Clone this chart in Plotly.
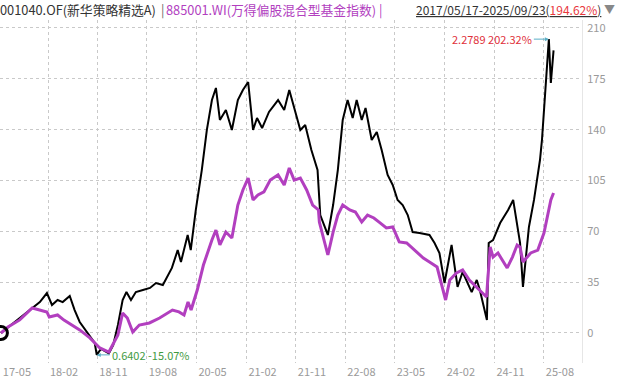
import plotly.graph_objects as go

# ---------------- data (cumulative return, %) ----------------
fund_dates = [
    "2017-05-17", "2017-07-05", "2017-08-29", "2017-10-24", "2017-12-18", "2018-01-26",
    "2018-02-23", "2018-03-26", "2018-04-23", "2018-06-01", "2018-06-28", "2018-07-26",
    "2018-09-09", "2018-10-17", "2018-10-28", "2018-11-20", "2018-12-10", "2019-01-03",
    "2019-01-27", "2019-02-22", "2019-03-20", "2019-04-10", "2019-05-05", "2019-06-01",
    "2019-07-10", "2019-08-18", "2019-09-20", "2019-10-28", "2019-12-17", "2020-01-18",
    "2020-02-05", "2020-03-13", "2020-03-30", "2020-04-27", "2020-05-30", "2020-06-27",
    "2020-07-25", "2020-08-16", "2020-09-07", "2020-10-10", "2020-11-12", "2020-12-15",
    "2021-01-12", "2021-02-10", "2021-03-09", "2021-03-31", "2021-04-28", "2021-06-05",
    "2021-07-25", "2021-08-28", "2021-09-25", "2021-10-22", "2021-11-25", "2021-12-22",
    "2022-01-25", "2022-02-28", "2022-03-15", "2022-04-26", "2022-05-25", "2022-06-20",
    "2022-07-17", "2022-08-13", "2022-09-10", "2022-10-02", "2022-10-30", "2022-11-20",
    "2022-12-24", "2023-01-21", "2023-02-17", "2023-03-22", "2023-04-19", "2023-05-16",
    "2023-06-13", "2023-07-11", "2023-08-07", "2023-09-14", "2023-11-08", "2023-12-06",
    "2024-01-02", "2024-01-30", "2024-03-09", "2024-04-11", "2024-05-09", "2024-06-28",
    "2024-07-26", "2024-08-12", "2024-09-20", "2024-09-30", "2024-10-24", "2024-12-02",
    "2025-01-15", "2025-02-12", "2025-03-06", "2025-03-22", "2025-04-07", "2025-04-23",
    "2025-05-10", "2025-06-07", "2025-06-23", "2025-07-10", "2025-07-21", "2025-08-01",
    "2025-08-12", "2025-08-22", "2025-08-28", "2025-09-08", "2025-09-18", "2025-09-23",
]
fund_pct = [
    0.0, 4.8, 10.3, 15.8, 21.3, 27.5,
    19.3, 22.7, 21.3, 25.5, 15.8, 7.6,
    0.0, -6.9, -15.07, -11.0, -12.4, -14.0,
    -8.3, 5.5, 22.7, 28.2, 22.7, 28.2,
    29.6, 31.0, 34.4, 33.0, 44.8, 57.1,
    48.9, 67.5, 57.1, 84.7, 112.2, 139.8,
    160.4, 168.7, 146.7, 153.5, 139.8, 160.4,
    167.3, 172.8, 139.8, 148.0, 141.1, 152.2,
    160.4, 153.5, 167.3, 154.9, 139.8, 143.2,
    126.0, 112.2, 81.2, 67.5, 88.1, 112.2,
    146.7, 160.4, 148.0, 160.4, 146.7, 154.9,
    132.9, 138.4, 126.0, 108.8, 101.9, 91.6,
    88.1, 81.2, 69.5, 68.8, 67.5, 62.0,
    55.1, 34.4, 60.6, 31.7, 42.0, 28.2,
    36.5, 29.6, 9.0, 62.0, 64.0, 75.7,
    84.7, 91.6, 75.7, 62.0, 31.7, 50.3,
    73.0, 91.6, 105.3, 119.1, 132.9, 153.5,
    174.2, 185.9, 202.32, 172.1, 188.0, 194.62,
]

index_dates = [
    "2017-05-17", "2017-06-25", "2017-08-29", "2017-11-06", "2018-01-26", "2018-02-08",
    "2018-03-26", "2018-04-30", "2018-07-26", "2018-09-20", "2018-11-14", "2019-01-03",
    "2019-02-22", "2019-03-20", "2019-04-15", "2019-05-15", "2019-06-20", "2019-08-15",
    "2019-10-10", "2019-12-20", "2020-01-25", "2020-02-22", "2020-03-15", "2020-04-01",
    "2020-05-05", "2020-06-08", "2020-07-25", "2020-08-16", "2020-09-07", "2020-10-10",
    "2020-11-12", "2020-12-15", "2021-01-12", "2021-02-10", "2021-03-09", "2021-04-05",
    "2021-05-08", "2021-06-12", "2021-07-25", "2021-08-28", "2021-09-25", "2021-10-22",
    "2021-11-25", "2021-12-30", "2022-02-01", "2022-03-05", "2022-03-10", "2022-04-26",
    "2022-05-25", "2022-06-20", "2022-07-17", "2022-08-25", "2022-09-25", "2022-10-30",
    "2022-12-01", "2023-01-05", "2023-02-10", "2023-03-15", "2023-04-19", "2023-05-25",
    "2023-07-05", "2023-08-07", "2023-10-05", "2023-11-08", "2023-12-20", "2024-02-05",
    "2024-02-28", "2024-04-05", "2024-05-09", "2024-06-15", "2024-07-26", "2024-09-18",
    "2024-10-08", "2024-10-24", "2024-11-20", "2025-01-10", "2025-02-08", "2025-03-06",
    "2025-03-22", "2025-04-07", "2025-05-20", "2025-06-28", "2025-08-01", "2025-08-28",
    "2025-09-08", "2025-09-23",
]
index_pct = [
    0.0, 4.1, 9.0, 17.2, 14.5, 11.0,
    12.4, 8.9, 2.1, -3.4, -10.3, -13.1,
    -1.4, 13.8, 10.3, 0.7, 5.5, 6.9,
    10.3, 15.8, 14.5, 12.4, 21.3, 15.8,
    29.6, 46.8, 64.0, 70.9, 60.6, 69.5,
    65.4, 88.1, 98.5, 106.7, 91.6, 95.0,
    97.1, 105.3, 108.8, 101.9, 113.6, 105.3,
    106.7, 98.5, 88.1, 84.7, 76.4, 53.7,
    69.5, 81.2, 88.1, 84.7, 83.3, 76.4,
    81.2, 79.2, 75.7, 72.3, 73.0, 62.7,
    62.0, 58.5, 51.6, 48.9, 45.4, 22.7,
    36.5, 41.3, 43.4, 36.5, 31.7, 24.8,
    59.2, 52.3, 55.1, 44.8, 52.3, 60.6,
    59.2, 48.9, 55.1, 57.1, 68.8, 84.7,
    91.6, 96.4,
]

x_tick_dates = ["2017-05-17", "2018-02-01", "2018-11-01", "2019-08-01", "2020-05-01",
                "2021-02-01", "2021-11-01", "2022-08-01", "2023-05-01", "2024-02-01",
                "2024-11-01", "2025-08-01"]
x_tick_labels = ["17-05", "18-02", "18-11", "19-08", "20-05", "21-02", "21-11",
                 "22-08", "23-05", "24-02", "24-11", "25-08"]
y_tick_vals = [0, 35, 70, 105, 140, 175, 210]

fund_name = "001040.OF(新华策略精选A)"
index_name = "885001.WI(万得偏股混合型基金指数)"
period_text = "2017/05/17-2025/09/23"
period_ret = "194.62%"
max_label = "2.2789 202.32%"
min_label = "0.6402 -15.07%"
max_date, max_val = "2025-08-28", 202.32
min_date, min_val = "2018-10-28", -15.07

# ---------------- styles ----------------
BLACK = "#000000"
PURPLE = "#b23fbf"
GRID = "#c9c9c9"
TICK = "#9a9a9a"
CJK = "Noto Sans CJK SC"
PLOT_W = 582  # plot-area width in px (for header placement)

fig = go.Figure()
fig.add_trace(go.Scatter(x=fund_dates, y=fund_pct, mode="lines",
                         line=dict(color=BLACK, width=2), name=fund_name,
                         hoverinfo="skip"))
fig.add_trace(go.Scatter(x=index_dates, y=index_pct, mode="lines",
                         line=dict(color=PURPLE, width=3), name=index_name,
                         hoverinfo="skip"))
# start marker
fig.add_trace(go.Scatter(x=fund_dates[:1], y=fund_pct[:1], mode="markers",
                         marker=dict(symbol="circle-open", size=13, color=BLACK,
                                     line=dict(width=3, color=BLACK)),
                         hoverinfo="skip"))

fig.update_layout(
    width=621, height=385,
    margin=dict(l=0, r=39, t=20, b=22, autoexpand=False),
    paper_bgcolor="white", plot_bgcolor="white",
    showlegend=False,
    font=dict(family=CJK, size=11, color=TICK),
    xaxis=dict(
        type="date", range=["2017-05-12", "2026-02-27"], automargin=False,
        tickvals=x_tick_dates, ticktext=x_tick_labels,
        showgrid=True, gridcolor=GRID, griddash="dot", gridwidth=1,
        zeroline=False, showline=False, ticks="",
        tickfont=dict(family=CJK, size=11, color=TICK),
        ticklabelshift=16, ticklabelstandoff=1,
    ),
    yaxis=dict(
        side="right", range=[-20.66, 215.5], automargin=False,
        tickvals=y_tick_vals, ticksuffix="%",
        showgrid=True, gridcolor=GRID, griddash="dot", gridwidth=1,
        zeroline=False, showline=True, linecolor="#e6e6e6", linewidth=1,
        ticks="", tickfont=dict(family=CJK, size=11, color=TICK),
        ticklabelstandoff=2,
    ),
)

# max / min annotations
fig.add_annotation(x=max_date, y=max_val, xref="x", yref="y", text=max_label,
                   showarrow=True, ax=-15, ay=0, xanchor="right", yanchor="middle",
                   arrowhead=2, arrowsize=0.8, arrowwidth=1, arrowcolor="#5aaec6",
                   font=dict(family=CJK, size=11, color="#e0303a"))
fig.add_annotation(x=min_date, y=min_val, xref="x", yref="y", text=min_label,
                   showarrow=True, ax=13, ay=0, xanchor="left", yanchor="middle",
                   arrowhead=2, arrowsize=0.8, arrowwidth=1, arrowcolor="#5aaec6",
                   font=dict(family=CJK, size=11, color="#3f9a3f"))

# header
hy = 1 + 11 / 343
def header(px, text, color, size=12.8):
    fig.add_annotation(x=px / PLOT_W, y=hy, xref="paper", yref="paper", text=text,
                       showarrow=False, xanchor="left", yanchor="middle",
                       font=dict(family=CJK, size=size, color=color))

header(-2, fund_name, "#333333")
header(159, "|", "#666666")
header(164, index_name, PURPLE)
header(377, "|", PURPLE)
header(414, "<u>" + period_text + "(<span style='color:#e8383d'>" + period_ret
       + "</span>)</u>", "#333333", 12)
header(602, "▼", "#888888", 11)

fig.write_html("out.html",
               config={"displayModeBar": False},
               post_script="document.body.style.margin='0';document.body.style.padding='0';")
